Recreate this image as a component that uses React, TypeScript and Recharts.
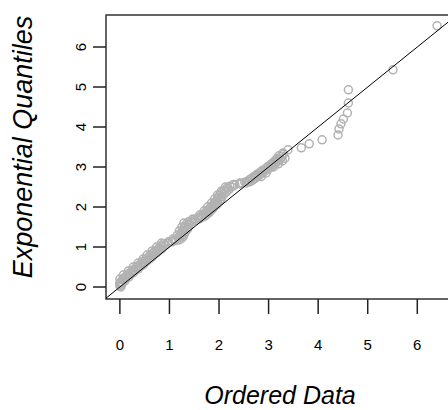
import React from 'react';
import { ScatterChart, Scatter, XAxis, YAxis, Label, ReferenceArea } from 'recharts';

// dense band of points along the line (ordered data vs exponential quantiles)
const bandX = [
  0.02, 0.03, 0.05, 0.1, 0.12, 0.18, 0.2, 0.27, 0.3, 0.37, 0.4, 0.47, 0.5, 0.55, 0.6, 0.65,
  0.68, 0.74, 0.78, 0.84, 0.87, 0.92, 0.97, 1.05, 1.12, 1.2, 1.25, 1.28, 1.3, 1.32, 1.36, 1.38,
  1.4, 1.44, 1.52, 1.6, 1.66, 1.72, 1.76, 1.8, 1.83, 1.87, 1.9, 1.95, 1.98, 2.02, 2.04, 2.06,
  2.1, 2.15, 2.2, 2.26, 2.32, 2.45, 2.55, 2.62, 2.68, 2.72, 2.77, 2.82, 2.88, 2.93, 3.0, 3.05,
  3.1, 3.15, 3.2, 3.24, 3.27, 3.3,
];
const bandY = [
  0.0, 0.05, 0.1, 0.15, 0.2, 0.25, 0.3, 0.35, 0.4, 0.45, 0.5, 0.55, 0.6, 0.65, 0.7, 0.75,
  0.8, 0.85, 0.9, 0.95, 1.0, 1.05, 1.1, 1.13, 1.16, 1.18, 1.22, 1.27, 1.32, 1.38, 1.44, 1.5,
  1.56, 1.62, 1.66, 1.7, 1.74, 1.78, 1.82, 1.86, 1.9, 1.95, 2.0, 2.05, 2.1, 2.15, 2.2, 2.26,
  2.32, 2.38, 2.44, 2.5, 2.55, 2.58, 2.6, 2.63, 2.67, 2.71, 2.75, 2.8, 2.85, 2.9, 2.95, 3.0,
  3.05, 3.1, 3.15, 3.2, 3.26, 3.32,
];

// points on the upper-left side of the band
const upperX = [
  0.0, 0.0, 0.02, 0.05, 0.09, 0.13, 0.17, 0.22, 0.27, 0.32, 0.37, 0.42, 0.46, 0.51, 0.56, 0.6,
  0.65, 0.69, 0.75, 0.79, 0.83, 0.88, 0.98, 1.1, 1.17, 1.21, 1.22, 1.24, 1.26, 1.3, 1.32, 1.34,
  1.4, 1.5, 1.58, 1.64, 1.68, 1.72, 1.75, 1.78, 1.82, 1.86, 1.9, 1.93, 1.96, 1.98, 2.01, 2.05,
  2.1, 2.16, 2.22, 2.29, 2.42, 2.52, 2.58, 2.63, 2.67, 2.72, 2.77, 2.83, 2.88, 2.95, 3.0, 3.05,
  3.1, 3.14, 3.18, 3.21,
];
const upperY = [
  0.03, 0.08, 0.13, 0.18, 0.23, 0.28, 0.33, 0.38, 0.43, 0.48, 0.53, 0.58, 0.63, 0.68, 0.73, 0.78,
  0.83, 0.88, 0.93, 0.98, 1.03, 1.08, 1.13, 1.18, 1.22, 1.26, 1.3, 1.35, 1.4, 1.46, 1.52, 1.58,
  1.64, 1.69, 1.73, 1.77, 1.81, 1.85, 1.89, 1.93, 1.98, 2.03, 2.08, 2.13, 2.18, 2.23, 2.29, 2.35,
  2.41, 2.47, 2.52, 2.56, 2.59, 2.62, 2.65, 2.69, 2.73, 2.77, 2.82, 2.87, 2.92, 2.97, 3.02, 3.07,
  3.12, 3.17, 3.22, 3.28,
];

// outer edge of the band
const outerX = [
  0.0, 0.0, 0.07, 0.17, 0.27, 0.37, 0.47, 0.55, 0.65, 0.74, 0.84, 1.07, 1.16, 1.2, 1.25, 1.29,
  1.47, 1.61, 1.7, 1.77, 1.85, 1.91, 1.97, 2.05, 2.13, 2.42, 2.64, 2.76, 2.87, 2.99, 3.09, 3.18,
];
const outerY = [
  0.1, 0.2, 0.3, 0.4, 0.5, 0.6, 0.7, 0.8, 0.9, 1.0, 1.1, 1.2, 1.3, 1.4, 1.5, 1.6,
  1.7, 1.8, 1.9, 2.0, 2.1, 2.2, 2.3, 2.4, 2.5, 2.6, 2.7, 2.8, 2.9, 3.0, 3.1, 3.2,
];

// points just below the line near the top of the band
const lowerX = [2.85, 2.95, 3.1, 3.2, 3.28, 3.33];
const lowerY = [2.76, 2.85, 3.0, 3.08, 3.15, 3.22];

// sparse upper tail
const tailX = [3.29, 3.39, 3.66, 3.82, 4.08, 4.4, 4.42, 4.46, 4.51, 4.59, 4.61, 4.61, 5.51, 6.4];
const tailY = [3.35, 3.43, 3.48, 3.58, 3.68, 3.8, 3.95, 4.08, 4.2, 4.35, 4.6, 4.93, 5.43, 6.53];

// reference line y = x
const lineX = [-0.3, 6.9];
const lineY = [-0.3, 6.9];

const xTicks = [0, 1, 2, 3, 4, 5, 6];
const yTicks = [0, 1, 2, 3, 4, 5, 6];
const xDomain = [-0.28, 6.68];
const yDomain = [-0.3, 6.8];

const allX = [...bandX, ...upperX, ...outerX, ...lowerX, ...tailX];
const allY = [...bandY, ...upperY, ...outerY, ...lowerY, ...tailY];
const points = allX.map((x, i) => ({ x, y: allY[i] }));
const lineData = lineX.map((x, i) => ({ x, y: lineY[i] }));

const FONT = '"Liberation Sans", Arial, sans-serif';
const BOX = '#333';

const OpenCircle = (props: any) => (
  <circle cx={props.cx} cy={props.cy} r={4} fill="none" stroke="#b2b2b2" strokeWidth={1.5} />
);

const YTick = (props: any) => {
  const { x, y, payload } = props;
  const cx = x - 11;
  return (
    <text
      x={cx}
      y={y}
      transform={`rotate(-90 ${cx} ${y})`}
      textAnchor="middle"
      dominantBaseline="central"
      fontSize={15}
      fontFamily={FONT}
      fill="#000"
    >
      {payload.value}
    </text>
  );
};

export default function App() {
  return (
    <div style={{ position: 'absolute', left: 0, top: 0, background: '#fff' }}>
      <ScatterChart width={448} height={410} margin={{ top: 15, right: -3, bottom: 0, left: 0 }}>
        <XAxis
          type="number"
          dataKey="x"
          domain={xDomain}
          ticks={xTicks}
          allowDataOverflow
          height={111}
          tickSize={15}
          tickMargin={25}
          axisLine={false}
          tickLine={{ stroke: '#222', strokeWidth: 1.5 }}
          tick={{ fontSize: 15, fontFamily: FONT, fill: '#000' }}
        >
          <Label
            content={() => (
              <text
                x={280}
                y={395}
                textAnchor="middle"
                dominantBaseline="central"
                fontSize={25}
                fontStyle="italic"
                fontFamily={FONT}
                fill="#000"
              >
                Ordered Data
              </text>
            )}
          />
        </XAxis>
        <YAxis
          type="number"
          dataKey="y"
          domain={yDomain}
          ticks={yTicks}
          allowDataOverflow
          width={106}
          tickSize={13}
          tickMargin={2}
          axisLine={false}
          tickLine={{ stroke: '#222', strokeWidth: 1.5 }}
          tick={<YTick />}
        >
          <Label
            content={() => (
              <text
                x={23}
                y={147}
                transform="rotate(-90 23 147)"
                textAnchor="middle"
                dominantBaseline="central"
                fontSize={27}
                fontStyle="italic"
                fontFamily={FONT}
                fill="#000"
              >
                Exponential Quantiles
              </text>
            )}
          />
        </YAxis>
        <Scatter data={points} shape={<OpenCircle />} isAnimationActive={false} />
        <Scatter
          data={lineData}
          line={{ stroke: '#000', strokeWidth: 1 }}
          shape={() => null}
          isAnimationActive={false}
        />
        <ReferenceArea
          x1={xDomain[0]}
          x2={xDomain[1]}
          y1={yDomain[0]}
          y2={yDomain[1]}
          fill="none"
          stroke={BOX}
          strokeWidth={1.5}
          ifOverflow="visible"
        />
      </ScatterChart>
    </div>
  );
}
